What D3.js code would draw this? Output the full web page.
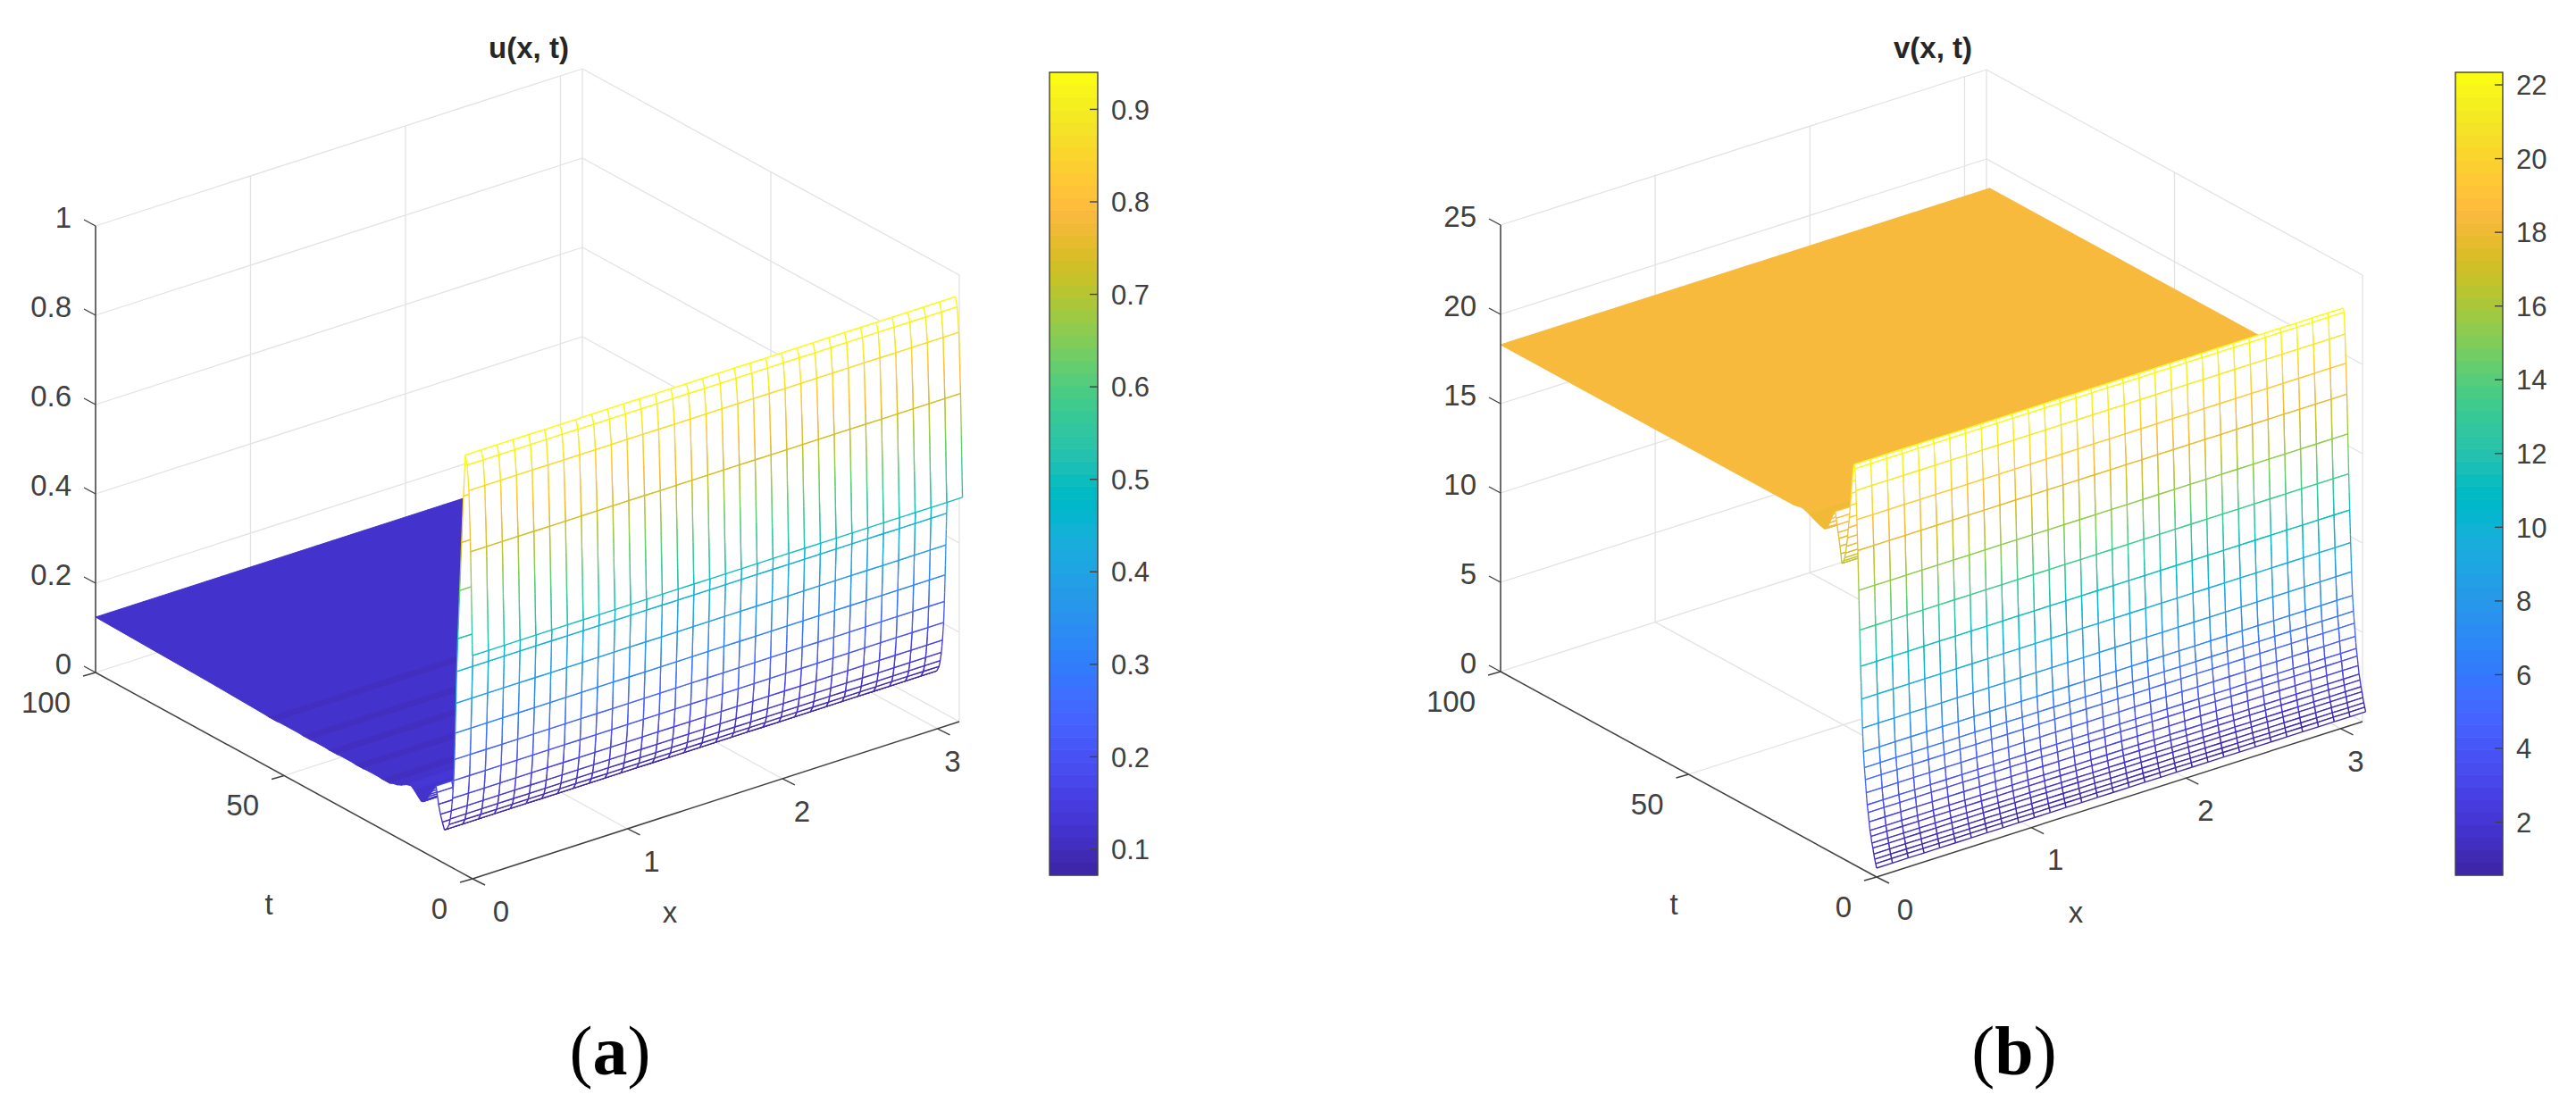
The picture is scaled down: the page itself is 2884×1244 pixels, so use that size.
<!DOCTYPE html>
<meta charset="utf-8">
<style>
  body { margin: 0; background: #fff; }
  text { font-family: "Liberation Sans", Arial, sans-serif; fill: #404040; }
</style>
<body>
<div id="chart"></div>
<script src="https://d3js.org/d3.v7.min.js"></script>
<script>
// mesh grid, same x for both plots (x runs to about pi)
var xGrid = [0, .102, .204, .306, .408, .51, .612, .714, .816, .918, 1.02, 1.122, 1.224, 1.326, 1.428, 1.53,
  1.632, 1.734, 1.836, 1.938, 2.04, 2.142, 2.244, 2.346, 2.448, 2.55, 2.652, 2.754, 2.856, 2.958, 3.06, 3.162];

// u(x, t) profile read along t, the surface barely changes with x
var uTimes = [0, .5, .95, 1.4, 1.9, 2.4, 2.9, 3.4, 3.9, 4.2, 4.4, 4.6, 4.8, 5, 5.3, 5.6, 5.9, 6.2, 6.8, 7.45,
  8, 8.5, 9, 9.4, 9.7, 10.2, 10.7, 11.2, 11.7, 12.2, 12.7, 13.2, 13.7, 14.5, 15.5, 16.3, 17.5, 19, 20, 21, 22, 24, 25, 28, 29, 31, 32, 35, 36, 38, 39,
  42, 43, 45, 46, 51, 52, 54, 55, 70, 85, 100];
var uValues = [.5, .73, .865, .92, .94, .846, .74, .63, .52, .445, .373, .305, .245, .197, .156, .127, .107, .093, .08, .0755,
  .09, .105, .125, .15, .163, .155, .147, .138, .13, .122, .116, .112, .111, .118, .127, .133, .13, .122, .118, .116, .1125, .1125, .1135, .1135, .1125, .1125, .1135, .1135, .1125, .1125, .1135,
  .1135, .1125, .1125, .1135, .1135, .1125, .1125, .1135, .118, .121, .124];

// v(x, t) profile
var vTimes = [0, .25, .5, .75, 1, 1.25, 1.5, 1.75, 2, 2.25, 2.5, 2.75, 3, 3.25, 3.5, 3.75, 4, 4.25, 4.5, 4.75, 5, 5.25, 5.5, 5.75, 6,
  6.25, 6.5, 6.75, 7, 7.25, 7.5, 7.75, 8, 8.25, 8.5, 8.75, 9, 9.25, 9.5, 9.75, 10, 10.25, 10.5, 10.75, 11,
  11.5, 12, 12.5, 13, 13.5, 14, 15, 16, 17, 18, 19, 20, 21, 22, 25, 50, 75, 100];
var vValues = [.5, .72, .94, 1.2, 1.5, 1.75, 2.1, 2.4, 2.85, 3.35, 3.75, 4.4, 5.1, 5.75, 6.6, 7.9, 9.5, 11.3, 13.3, 15.5, 17.7, 19.4, 21, 22.2, 22.4,
  22, 21.4, 20.7, 20, 19.3, 18.7, 18.1, 17.6, 17.2, 16.9, 16.7, 16.55, 16.5, 17, 17.4, 17.8, 18.1, 18.5, 18.85, 19.2,
  19, 18.7, 18.4, 18.1, 17.95, 17.9, 17.95, 18.05, 18.15, 18.25, 18.35, 18.4, 18.35, 18.3, 18.3, 18.3, 18.3, 18.3];

var xTicks = [0, 1, 2, 3];
var tTicks = [0, 50, 100];
var uTicks = [0, .2, .4, .6, .8, 1];
var vTicks = [0, 5, 10, 15, 20, 25];
var uBarTicks = [.1, .2, .3, .4, .5, .6, .7, .8, .9];
var vBarTicks = [2, 4, 6, 8, 10, 12, 14, 16, 18, 20, 22];

// matlab parula
var parula = [[.2422,.1504,.6603],[.2504,.165,.7076],[.2578,.1818,.7511],[.2647,.1978,.7952],[.2706,.2147,.8364],[.2751,.2342,.871],
  [.2783,.2559,.8991],[.2803,.2782,.9221],[.2813,.3006,.9414],[.281,.3228,.9579],[.2795,.3447,.9717],[.276,.3667,.9829],
  [.2699,.3892,.9906],[.2602,.4123,.9952],[.244,.4358,.9988],[.2206,.4603,.9973],[.1963,.4847,.9892],[.1834,.5074,.9798],
  [.1786,.5289,.9682],[.1764,.5499,.952],[.1687,.5703,.9359],[.154,.5902,.9218],[.146,.6091,.9079],[.138,.6276,.8973],
  [.1248,.6459,.8883],[.1113,.6635,.8763],[.0952,.6798,.8598],[.0689,.6948,.8394],[.0297,.7082,.8163],[.0036,.7203,.7917],
  [.0067,.7312,.766],[.0433,.7411,.7394],[.0964,.75,.712],[.1408,.7584,.6842],[.1717,.767,.6554],[.1938,.7758,.6251],
  [.2161,.7843,.5923],[.247,.7918,.5567],[.2906,.7973,.5188],[.3406,.8008,.4789],[.3909,.8029,.4354],[.4456,.8024,.3909],
  [.5044,.7993,.348],[.5616,.7942,.3045],[.6174,.7876,.2612],[.672,.7793,.2227],[.7242,.7698,.191],[.7738,.7598,.1646],
  [.8203,.7498,.1535],[.8634,.7406,.1596],[.9035,.733,.1774],[.9393,.7288,.21],[.9728,.7298,.2394],[.9956,.7434,.2371],
  [.997,.7659,.2199],[.9952,.7893,.2028],[.9892,.8136,.1885],[.9786,.8386,.1766],[.9676,.8639,.1643],[.961,.889,.1537],
  [.9597,.9135,.1423],[.9628,.9373,.1265],[.9691,.9606,.1064],[.9769,.9839,.0805]]
  .map(function(c) { return d3.rgb(c[0] * 255, c[1] * 255, c[2] * 255).formatHex(); });

var grey = "#e2e2e2", dark = "#404040", fontSize = 33, barFontSize = 31;

var svg = d3.select("#chart").append("svg").attr("width", 2884).attr("height", 1244);

drawPanel({
  title: "u(x, t)", titleX: 592, caption: "a", captionX: 683,
  times: uTimes, values: uValues, solidFrom: 13.7,
  zMax: 1, zTicks: uTicks, zFormat: String,
  origin: [529, 984], ex: [545, -176], et: [-422, -231], ez: [0, -500],
  tLabel: [301, 1012], xLabel: [750, 1026],
  bar: {x: 1175, w: 54, domain: [.072, .94], ticks: uBarTicks, labelX: 1244}
});

drawPanel({
  title: "v(x, t)", titleX: 2164, caption: "b", captionX: 2255,
  times: vTimes, values: vValues, solidFrom: 14,
  zMax: 25, zTicks: vTicks, zFormat: String,
  origin: [2101, 982], ex: [544, -174], et: [-421, -230], ez: [0, -500],
  tLabel: [1874, 1012], xLabel: [2324, 1026],
  bar: {x: 2749, w: 53, domain: [.56, 22.34], ticks: vBarTicks, labelX: 2817}
});

function drawPanel(p) {
  var g = svg.append("g");
  var xs = d3.scaleLinear().domain([0, Math.PI]).range([0, 1]);
  var ts = d3.scaleLinear().domain([0, 100]).range([0, 1]);
  var zs = d3.scaleLinear().domain([0, p.zMax]).range([0, 1]);
  var color = d3.scaleQuantize().domain(p.bar.domain).range(parula);
  var line = d3.line();

  function project(x, t, z) {
    var a = xs(x), b = ts(t), c = zs(z);
    return [p.origin[0] + a * p.ex[0] + b * p.et[0] + c * p.ez[0],
            p.origin[1] + a * p.ex[1] + b * p.et[1] + c * p.ez[1]];
  }

  function seg(g2, a, b, col, w) {
    g2.append("path").attr("d", line([a, b])).attr("fill", "none").attr("stroke", col).attr("stroke-width", w);
  }

  // back walls and floor
  var xEnd = Math.PI, tEnd = 100, zEnd = p.zMax;
  var grid = g.append("g");
  xTicks.forEach(function(x) {
    if (x > 0) seg(grid, project(x, 0, 0), project(x, tEnd, 0), grey, 1.3);
    seg(grid, project(x, tEnd, 0), project(x, tEnd, zEnd), grey, 1.3);
  });
  tTicks.forEach(function(t) {
    if (t > 0 && t < 100) {
      seg(grid, project(0, t, 0), project(xEnd, t, 0), grey, 1.3);
      seg(grid, project(xEnd, t, 0), project(xEnd, t, zEnd), grey, 1.3);
    }
  });
  p.zTicks.forEach(function(z) {
    seg(grid, project(0, tEnd, z), project(xEnd, tEnd, z), grey, 1.3);
    seg(grid, project(xEnd, tEnd, z), project(xEnd, 0, z), grey, 1.3);
  });
  seg(grid, project(xEnd, tEnd, 0), project(xEnd, tEnd, zEnd), grey, 1.3);
  seg(grid, project(xEnd, 0, 0), project(xEnd, 0, zEnd), grey, 1.3);

  // mesh, far cells first so the white faces hide what is behind
  var pieces = [];
  function edge(x0, t0, z0, x1, t1, z1) {
    var a = project(x0, t0, z0), b = project(x1, t1, z1);
    var n = Math.max(1, Math.min(10, Math.ceil(Math.abs(z1 - z0) / p.zMax * 500 / 12)));
    for (var i = 0; i < n; i++) {
      var f0 = i / n, f1 = (i + 1) / n;
      pieces.push({
        d: line([[a[0] + (b[0] - a[0]) * f0, a[1] + (b[1] - a[1]) * f0],
                 [a[0] + (b[0] - a[0]) * f1, a[1] + (b[1] - a[1]) * f1]]),
        fill: "none", stroke: color(z0 + (z1 - z0) * (f0 + f1) / 2), width: 1.35
      });
    }
  }
  for (var it = p.times.length - 2; it >= 0; it--) {
    var t0 = p.times[it], t1 = p.times[it + 1], z0 = p.values[it], z1 = p.values[it + 1];
    for (var ix = xGrid.length - 2; ix >= 0; ix--) {
      var x0 = xGrid[ix], x1 = xGrid[ix + 1];
      var quad = line([project(x0, t0, z0), project(x1, t0, z0), project(x1, t1, z1), project(x0, t1, z1)]) + "Z";
      if (t0 >= p.solidFrom) {
        // the real t grid is so fine out here that the lines merge
        var c = color((z0 + z1) / 2);
        pieces.push({d: quad, fill: c, stroke: c, width: 1});
      } else {
        pieces.push({d: quad, fill: "#fff", stroke: "none", width: 0});
        edge(x0, t1, z1, x1, t1, z1);
        edge(x1, t0, z0, x1, t1, z1);
        edge(x0, t0, z0, x0, t1, z1);
        edge(x0, t0, z0, x1, t0, z0);
      }
    }
  }
  g.append("g").selectAll("path").data(pieces).join("path")
    .attr("d", function(d) { return d.d; })
    .attr("fill", function(d) { return d.fill; })
    .attr("stroke", function(d) { return d.stroke; })
    .attr("stroke-width", function(d) { return d.width; });

  // axes
  var axes = g.append("g");
  seg(axes, project(0, tEnd, 0), project(0, 0, 0), dark, 1.5);
  seg(axes, project(0, 0, 0), project(xEnd, 0, 0), dark, 1.5);
  seg(axes, project(0, tEnd, 0), project(0, tEnd, zEnd), dark, 1.5);

  p.zTicks.forEach(function(z) {
    var q = project(0, tEnd, z);
    seg(axes, q, [q[0] - 13, q[1] - 7], dark, 1.4);
    axes.append("text").attr("x", q[0] - 27).attr("y", q[1] - 10).attr("dy", ".36em")
      .attr("text-anchor", "end").attr("font-size", fontSize).text(p.zFormat(z));
  });
  tTicks.forEach(function(t) {
    var q = project(0, t, 0);
    seg(axes, q, [q[0] - 14, q[1] + 4], dark, 1.4);
    axes.append("text").attr("x", q[0] - 28).attr("y", q[1] + 33).attr("dy", ".36em")
      .attr("text-anchor", "end").attr("font-size", fontSize).text(t);
  });
  xTicks.forEach(function(x, i) {
    var q = project(x, 0, 0);
    seg(axes, q, [q[0] + 14, q[1] + 7], dark, 1.4);
    axes.append("text").attr("x", q[0] + 32 - 5 * i).attr("y", q[1] + 36).attr("dy", ".36em")
      .attr("text-anchor", "middle").attr("font-size", fontSize).text(x);
  });
  axes.append("text").attr("x", p.tLabel[0]).attr("y", p.tLabel[1]).attr("dy", ".36em")
    .attr("text-anchor", "middle").attr("font-size", fontSize).text("t");
  axes.append("text").attr("x", p.xLabel[0]).attr("y", p.xLabel[1]).attr("dy", ".2em")
    .attr("text-anchor", "middle").attr("font-size", fontSize).text("x");

  g.append("text").attr("x", p.titleX).attr("y", 65).attr("text-anchor", "middle")
    .attr("font-size", 33).attr("font-weight", "bold").style("fill", "#262626").text(p.title);

  // caption
  var cap = g.append("text").attr("x", p.captionX).attr("y", 1203).attr("text-anchor", "middle")
    .attr("font-size", 78).style("font-family", "'Liberation Serif', serif").style("fill", "#000");
  cap.append("tspan").text("(");
  cap.append("tspan").attr("font-weight", "bold").text(p.caption);
  cap.append("tspan").text(")");

  // colorbar
  var barY = d3.scaleLinear().domain(p.bar.domain).range([980, 81]);
  var bar = g.append("g");
  var band = d3.scaleBand().domain(d3.range(64)).range([980, 81]);
  bar.selectAll("rect.band").data(parula).join("rect").attr("class", "band")
    .attr("x", p.bar.x).attr("width", p.bar.w)
    .attr("y", function(d, i) { return band(i) - .3; })
    .attr("height", band.bandwidth() + .6)
    .attr("fill", function(d) { return d; });
  bar.append("rect").attr("x", p.bar.x).attr("y", 81).attr("width", p.bar.w).attr("height", 899)
    .attr("fill", "none").attr("stroke", dark).attr("stroke-width", 1.4);
  p.bar.ticks.forEach(function(v) {
    var y = barY(v);
    seg(bar, [p.bar.x + p.bar.w - 9, y], [p.bar.x + p.bar.w, y], dark, 1.4);
    bar.append("text").attr("x", p.bar.labelX).attr("y", y).attr("dy", ".36em")
      .attr("font-size", barFontSize).text(v);
  });
}
</script>
</body>
